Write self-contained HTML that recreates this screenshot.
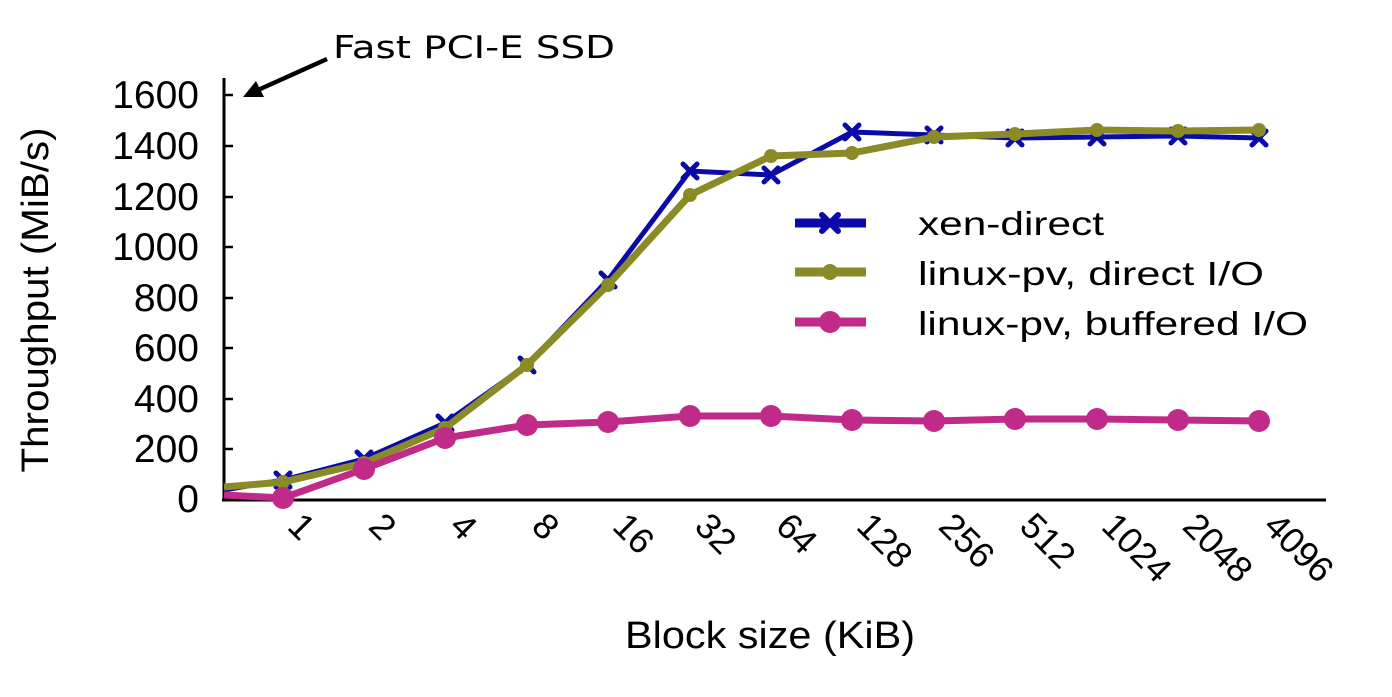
<!DOCTYPE html>
<html><head><meta charset="utf-8"><style>
html,body{margin:0;padding:0;background:#fff;}
svg{display:block;}
text{font-family:"Liberation Sans",Arial,sans-serif;}
</style></head><body>
<svg width="1392" height="697" viewBox="0 0 1392 697" xmlns="http://www.w3.org/2000/svg">
<!-- axes -->
<line x1="224" y1="78" x2="224" y2="501" stroke="#000" stroke-width="3"/>
<line x1="222" y1="500" x2="1326" y2="500" stroke="#000" stroke-width="3"/>
<g stroke="#000" stroke-width="2.5">
<line x1="224" y1="95" x2="233" y2="95"/><line x1="224" y1="146" x2="233" y2="146"/>
<line x1="224" y1="197" x2="233" y2="197"/><line x1="224" y1="247" x2="233" y2="247"/>
<line x1="224" y1="298" x2="233" y2="298"/><line x1="224" y1="348" x2="233" y2="348"/>
<line x1="224" y1="399" x2="233" y2="399"/><line x1="224" y1="449" x2="233" y2="449"/>
</g>
<g font-size="39" text-anchor="end" fill="#000">
<text x="199" y="108">1600</text><text x="199" y="159">1400</text><text x="199" y="210">1200</text>
<text x="199" y="260">1000</text><text x="199" y="311">800</text><text x="199" y="361">600</text>
<text x="199" y="412">400</text><text x="199" y="462">200</text><text x="199" y="512">0</text>
</g>
<text transform="translate(48,300) rotate(-90)" font-size="38" text-anchor="middle" textLength="345" lengthAdjust="spacingAndGlyphs" fill="#000">Throughput (MiB/s)</text>
<text x="770" y="648" font-size="38" text-anchor="middle" textLength="290" lengthAdjust="spacingAndGlyphs" fill="#000">Block size (KiB)</text>
<!-- x labels -->
<g font-size="36" fill="#000">
<text transform="translate(286,528) rotate(45)">1</text>
<text transform="translate(367,528) rotate(45)">2</text>
<text transform="translate(448,528) rotate(45)">4</text>
<text transform="translate(530,528) rotate(45)">8</text>
<text transform="translate(611,528) rotate(45)">16</text>
<text transform="translate(693,528) rotate(45)">32</text>
<text transform="translate(774,528) rotate(45)">64</text>
<text transform="translate(855,528) rotate(45)">128</text>
<text transform="translate(937,528) rotate(45)">256</text>
<text transform="translate(1018,528) rotate(45)">512</text>
<text transform="translate(1100,528) rotate(45)">1024</text>
<text transform="translate(1181,528) rotate(45)">2048</text>
<text transform="translate(1262,528) rotate(45)">4096</text>
</g>
<!-- annotation -->
<text x="333" y="58" font-size="31" style="font-family:'DejaVu Sans',sans-serif" textLength="282" lengthAdjust="spacingAndGlyphs" fill="#000">Fast PCI-E SSD</text>
<line x1="327" y1="59" x2="258" y2="90" stroke="#000" stroke-width="4.5"/>
<path d="M243,97 L256,81 L264,97 z" fill="#000"/>
<!-- xen-direct -->
<polyline fill="none" stroke="#0a0aa8" stroke-width="5" points="224,490 283,480 364,459 445,423 527,365 608,280 690,171 771,175 852,132 934,135 1015,138 1097,137 1178,136 1259,138"/>
<g stroke="#0a0aa8" stroke-width="5" stroke-linecap="round" id="xm">
<path d="M276,473l14,14m0,-14l-14,14"/><path d="M357,452l14,14m0,-14l-14,14"/><path d="M438,416l14,14m0,-14l-14,14"/><path d="M520,358l14,14m0,-14l-14,14"/><path d="M601,273l14,14m0,-14l-14,14"/><path d="M683,164l14,14m0,-14l-14,14"/><path d="M764,168l14,14m0,-14l-14,14"/><path d="M845,125l14,14m0,-14l-14,14"/><path d="M927,128l14,14m0,-14l-14,14"/><path d="M1008,131l14,14m0,-14l-14,14"/><path d="M1090,130l14,14m0,-14l-14,14"/><path d="M1171,129l14,14m0,-14l-14,14"/><path d="M1252,131l14,14m0,-14l-14,14"/>
</g>
<!-- linux-pv direct -->
<polyline fill="none" stroke="#8a8a26" stroke-width="7" points="224,487 283,482 364,463 445,428 527,365 608,285 690,195 771,156 852,153 934,137 1015,134 1097,130 1178,131 1259,130"/>
<g fill="#8a8a26">
<circle cx="283" cy="482" r="7"/><circle cx="364" cy="463" r="7"/><circle cx="445" cy="428" r="7"/><circle cx="527" cy="365" r="7"/><circle cx="608" cy="285" r="7"/><circle cx="690" cy="195" r="7"/><circle cx="771" cy="156" r="7"/><circle cx="852" cy="153" r="7"/><circle cx="934" cy="137" r="7"/><circle cx="1015" cy="134" r="7"/><circle cx="1097" cy="130" r="7"/><circle cx="1178" cy="131" r="7"/><circle cx="1259" cy="130" r="7"/>
</g>
<!-- linux-pv buffered -->
<polyline fill="none" stroke="#c02a88" stroke-width="7" points="224,495 283,498 364,469 445,438 527,425 608,422 690,416 771,416 852,420 934,421 1015,419 1097,419 1178,420 1259,421"/>
<g fill="#c02a88">
<circle cx="283" cy="498" r="11"/><circle cx="364" cy="469" r="11"/><circle cx="445" cy="438" r="11"/><circle cx="527" cy="425" r="11"/><circle cx="608" cy="422" r="11"/><circle cx="690" cy="416" r="11"/><circle cx="771" cy="416" r="11"/><circle cx="852" cy="420" r="11"/><circle cx="934" cy="421" r="11"/><circle cx="1015" cy="419" r="11"/><circle cx="1097" cy="419" r="11"/><circle cx="1178" cy="420" r="11"/><circle cx="1259" cy="421" r="11"/>
</g>
<!-- legend -->
<line x1="795" y1="223" x2="866" y2="223" stroke="#0a0aa8" stroke-width="9"/>
<path d="M822,215l16,16m0,-16l-16,16" stroke="#0a0aa8" stroke-width="6" stroke-linecap="round"/>
<line x1="795" y1="272" x2="866" y2="272" stroke="#8a8a26" stroke-width="9"/>
<circle cx="830" cy="272" r="8" fill="#8a8a26"/>
<line x1="795" y1="322" x2="866" y2="322" stroke="#c02a88" stroke-width="9"/>
<circle cx="830" cy="322" r="11" fill="#c02a88"/>
<g font-size="33" fill="#000">
<text x="918" y="235" textLength="186" lengthAdjust="spacingAndGlyphs">xen-direct</text>
<text x="918" y="285" textLength="346" lengthAdjust="spacingAndGlyphs">linux-pv, direct I/O</text>
<text x="918" y="335" textLength="390" lengthAdjust="spacingAndGlyphs">linux-pv, buffered I/O</text>
</g>
</svg>
</body></html>
